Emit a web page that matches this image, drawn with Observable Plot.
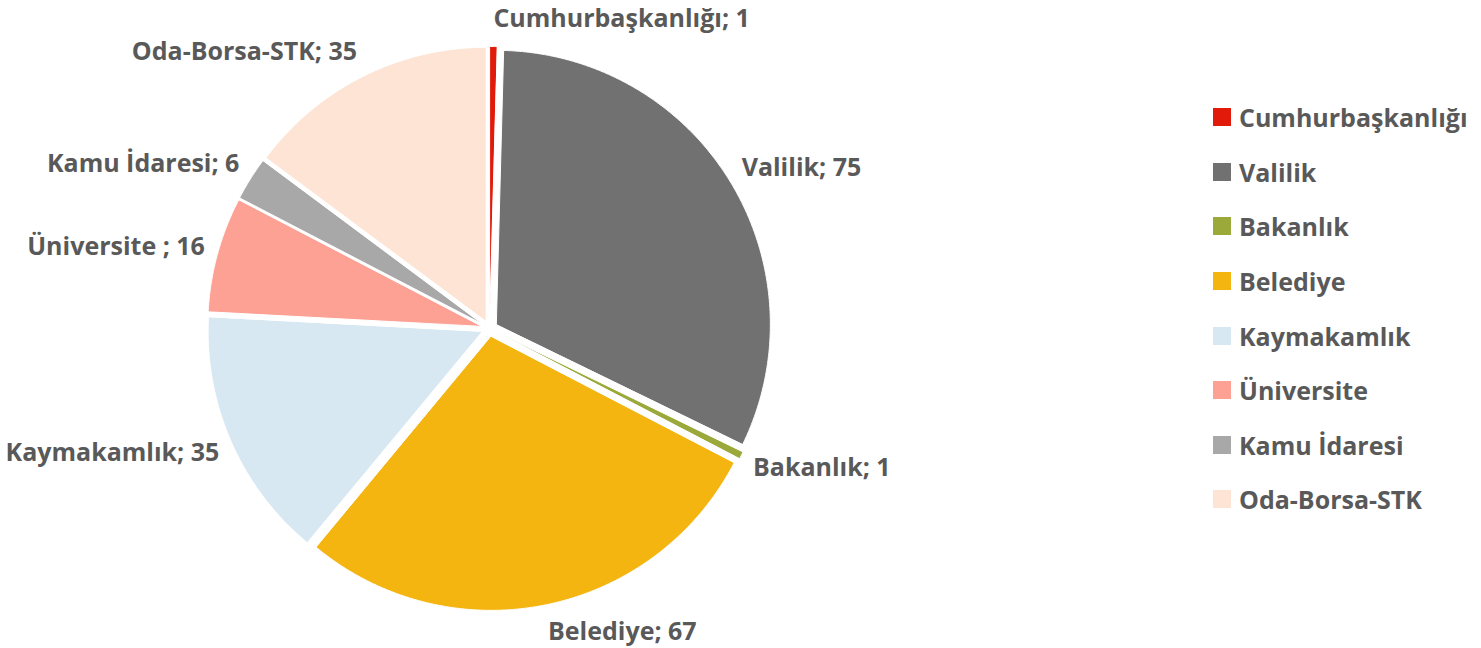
<!DOCTYPE html>
<html>
<head>
<meta charset="utf-8">
<script src="https://cdn.jsdelivr.net/npm/d3@7"></script>
<script src="https://cdn.jsdelivr.net/npm/@observablehq/plot@0.6"></script>
<style>
  html, body { margin: 0; padding: 0; background: #fff; }
  #chart { position: relative; width: 1481px; height: 648px; overflow: hidden; }
  #chart > svg { position: absolute; left: 0; top: 0; }
  #legend { position: absolute; left: 1213px; top: 90px; }
  .lg-swatches { font-family: "Open Sans", sans-serif !important; font-size: 25px !important; font-weight: bold !important; color: #595959 !important; margin: 0 !important; columns: auto !important; }
  .lg-swatch { display: flex !important; align-items: center !important; height: 54.6px !important; padding: 0 !important; margin: 0 !important; }
  .lg-swatch svg { margin-right: 8px !important; }
  .lg-swatch-label { max-width: none !important; overflow: visible !important; }
</style>
</head>
<body>
<div id="chart"><div id="legend"></div></div>
<script>
// ---- data ----
const categories = ["Cumhurbaşkanlığı", "Valilik", "Bakanlık", "Belediye", "Kaymakamlık", "Üniversite", "Kamu İdaresi", "Oda-Borsa-STK"];
const labelNames = ["Cumhurbaşkanlığı", "Valilik", "Bakanlık", "Belediye", "Kaymakamlık", "Üniversite ", "Kamu İdaresi", "Oda-Borsa-STK"];
const counts = [1, 75, 1, 67, 35, 16, 6, 35];
const colors = ["#E11A0A", "#717171", "#9BA93A", "#F4B511", "#D7E8F2", "#FDA195", "#A8A8A8", "#FDE4D4"];

// ---- layout ----
const W = 1481, H = 648;
const CX = 489, CY = 328, R = 274;     // pie centre and radius in px
const explode = 8 / R;                  // slice explosion (in radius units)
const labelRx = 295 / R, labelRy = 310 / R;

const rows = categories.map((c, i) => ({name: c, label: labelNames[i], value: counts[i]}));
const arcs = d3.pie().sort(null).value(d => d.value)(rows);

const slicePts = [];
const labels = [];
for (const a of arcs) {
  const mid = (a.startAngle + a.endAngle) / 2;
  const ox = explode * Math.sin(mid), oy = explode * Math.cos(mid);
  slicePts.push({name: a.data.name, x: ox, y: oy});
  const n = Math.max(2, Math.ceil((a.endAngle - a.startAngle) / 0.005));
  for (let k = 0; k <= n; k++) {
    const t = a.startAngle + (a.endAngle - a.startAngle) * k / n;
    slicePts.push({name: a.data.name, x: ox + Math.sin(t), y: oy + Math.cos(t)});
  }
  labels.push({
    text: `${a.data.label}; ${a.data.value}`,
    x: labelRx * Math.sin(mid),
    y: labelRy * Math.cos(mid),
    side: Math.sin(mid) >= 0 ? "right" : "left"
  });
}

const textStyle = {fontFamily: "'Open Sans', sans-serif", fontSize: 25, fontWeight: "bold", fill: "#595959", lineAnchor: "middle"};

const chart = Plot.plot({
  width: W,
  height: H,
  margin: 0,
  style: {background: "white", overflow: "visible"},
  x: {domain: [-CX / R, (W - CX) / R], axis: null},
  y: {domain: [-(H - CY) / R, CY / R], axis: null},
  color: {domain: categories, range: colors},
  marks: [
    Plot.line(slicePts, {x: "x", y: "y", z: "name", fill: "name", stroke: "white", strokeWidth: 1, curve: "linear-closed"}),
    Plot.text(labels, {filter: d => d.side === "right", x: "x", y: "y", text: "text", textAnchor: "start", ...textStyle}),
    Plot.text(labels, {filter: d => d.side === "left", x: "x", y: "y", text: "text", textAnchor: "end", ...textStyle})
  ]
});
document.getElementById("chart").prepend(chart);

const legend = Plot.legend({
  color: {domain: categories, range: colors},
  legend: "swatches",
  columns: 1,
  swatchSize: 18,
  className: "lg"
});
document.getElementById("legend").appendChild(legend);
</script>
</body>
</html>
